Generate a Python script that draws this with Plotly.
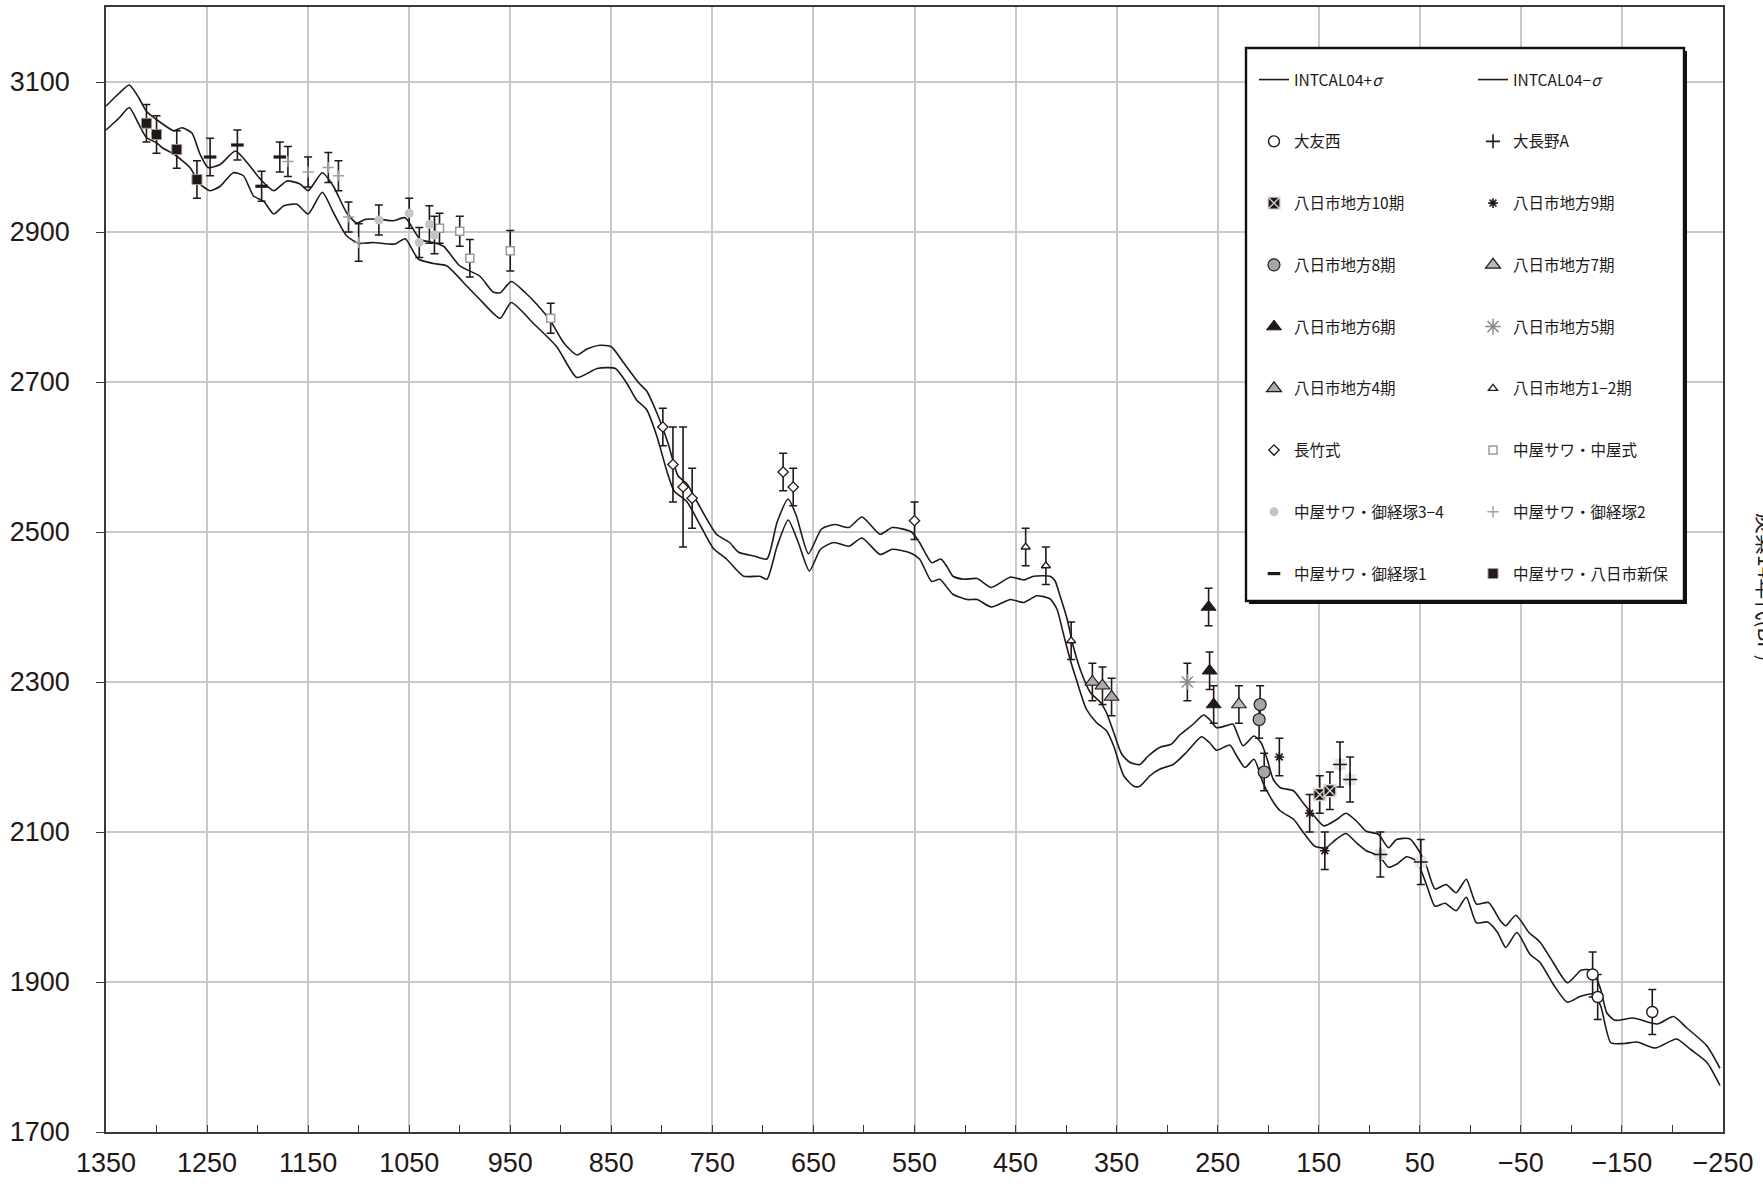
import plotly.graph_objects as go

# ---------------- data ----------------
# INTCAL04 calibration curve (+sigma / -sigma): calendar year (BC>0, AD<0) vs 14C age (BP)
upper_year = [1350, 1337, 1327, 1318, 1310, 1296, 1283, 1275, 1265, 1257, 1249, 1237, 1222, 1210, 1197,
              1184, 1171, 1158, 1150, 1136, 1125, 1112, 1102, 1093, 1079, 1066, 1054, 1039, 1026, 1016,
              1000, 980, 967, 960, 949, 935, 924, 910, 897, 884, 874, 861, 850, 838, 823, 815, 805, 794,
              784, 775, 765, 746, 733, 724, 709, 696, 686, 675, 667, 655, 642, 629, 615, 602, 584, 572,
              553, 545, 533, 524, 518, 512, 501, 488, 474, 455, 442, 432, 416, 411, 406, 399, 393, 385,
              376, 366, 360, 353, 345, 337, 327, 319, 307, 296, 287, 274, 264, 258, 251, 241, 235, 225,
              214, 207, 201, 195, 188, 175, 165, 155, 145, 133, 123, 113, 103, 91, 81, 73, 60, 50, 43,
              35, 24, 14, 4, -6, -18, -30, -35, -45, -58, -69, -82, -96, -110, -121, -129, -135, -143,
              -161, -185, -201, -214, -234, -247]
upper_bp = [3068, 3085, 3096, 3080, 3061, 3046, 3035, 3039, 3032, 3004, 2986, 2990, 3008, 2992, 2970,
            2955, 2968, 2964, 2955, 2979, 2961, 2926, 2912, 2917, 2917, 2915, 2919, 2890, 2886, 2881,
            2855, 2841, 2820, 2819, 2834, 2819, 2804, 2781, 2752, 2736, 2744, 2749, 2747, 2726, 2699, 2688,
            2659, 2619, 2575, 2564, 2540, 2497, 2486, 2473, 2468, 2464, 2513, 2544, 2522, 2471, 2504, 2510,
            2506, 2520, 2497, 2506, 2500, 2486, 2459, 2464, 2454, 2441, 2437, 2438, 2426, 2440, 2436, 2441,
            2441, 2435, 2415, 2384, 2348, 2313, 2286, 2273, 2259, 2233, 2204, 2193, 2190, 2201, 2213, 2217,
            2230, 2244, 2256, 2250, 2239, 2242, 2244, 2215, 2228, 2219, 2197, 2170, 2159, 2155, 2138, 2122,
            2108, 2116, 2125, 2115, 2101, 2097, 2079, 2090, 2091, 2073, 2053, 2024, 2030, 2019, 2037, 2004,
            2006, 1981, 1975, 1989, 1966, 1953, 1926, 1899, 1916, 1915, 1890, 1859, 1849, 1852, 1844, 1854,
            1839, 1815, 1785]

lower_year = [1350, 1337, 1327, 1318, 1310, 1300, 1294, 1283, 1267, 1257, 1247, 1237, 1224, 1214, 1204,
              1194, 1184, 1174, 1161, 1150, 1136, 1125, 1112, 1100, 1085, 1064, 1054, 1041, 1026, 1013,
              993, 980, 960, 949, 927, 904, 884, 864, 846, 835, 825, 815, 805, 795, 788, 775, 762, 749,
              736, 719, 703, 696, 686, 675, 665, 654, 643, 630, 615, 602, 584, 572, 554, 545, 533, 525,
              512, 498, 488, 474, 455, 442, 429, 416, 409, 403, 396, 390, 380, 370, 360, 353, 343, 333,
              327, 317, 307, 294, 281, 266, 258, 251, 238, 231, 223, 214, 205, 195, 188, 175, 165, 154,
              143, 133, 123, 113, 103, 90, 81, 73, 63, 53, 43, 35, 25, 14, 4, -6, -17, -27, -35, -46,
              -59, -69, -82, -96, -109, -122, -129, -139, -152, -165, -183, -204, -218, -234, -247]
lower_bp = [3036, 3052, 3066, 3045, 3026, 3019, 3012, 3004, 2986, 2964, 2955, 2961, 2979, 2975, 2948,
            2941, 2924, 2935, 2937, 2924, 2953, 2926, 2895, 2885, 2886, 2884, 2891, 2864, 2858, 2855,
            2828, 2810, 2785, 2806, 2778, 2747, 2706, 2718, 2718, 2699, 2676, 2663, 2628, 2581, 2555, 2540,
            2509, 2478, 2464, 2441, 2441, 2437, 2481, 2516, 2486, 2448, 2477, 2486, 2481, 2492, 2470, 2477,
            2472, 2464, 2434, 2437, 2417, 2410, 2410, 2400, 2410, 2406, 2415, 2411, 2397, 2366, 2330, 2304,
            2264, 2246, 2235, 2215, 2175, 2161, 2161, 2175, 2184, 2190, 2206, 2227, 2219, 2209, 2216, 2201,
            2186, 2197, 2165, 2140, 2128, 2117, 2099, 2081, 2079, 2090, 2098, 2086, 2075, 2068, 2053, 2057,
            2067, 2061, 2028, 2001, 2005, 1995, 2013, 1979, 1980, 1966, 1946, 1966, 1937, 1926, 1897, 1873,
            1881, 1884, 1868, 1819, 1818, 1820, 1812, 1824, 1810, 1793, 1762]

# measured samples: calendar year, 14C age (BP), 1-sigma error
ootomonishi_year = [-121, -126, -180]
ootomonishi_bp = [1910, 1880, 1860]
ootomonishi_err = [30, 30, 30]

oonaganoA_year = [129, 119, 89, 49]
oonaganoA_bp = [2190, 2170, 2070, 2060]
oonaganoA_err = [30, 30, 30, 30]

yokaichi10_year = [149, 139]
yokaichi10_bp = [2150, 2155]
yokaichi10_err = [25, 25]

yokaichi9_year = [189, 159, 144]
yokaichi9_bp = [2200, 2125, 2075]
yokaichi9_err = [25, 25, 25]

yokaichi8_year = [208, 209, 204]
yokaichi8_bp = [2270, 2250, 2180]
yokaichi8_err = [25, 25, 25]

yokaichi7_year = [229]
yokaichi7_bp = [2270]
yokaichi7_err = [25]

yokaichi6_year = [259, 258, 254]
yokaichi6_bp = [2400, 2315, 2270]
yokaichi6_err = [25, 25, 25]

yokaichi5_year = [280]
yokaichi5_bp = [2300]
yokaichi5_err = [25]

yokaichi4_year = [374, 364, 355]
yokaichi4_bp = [2300, 2295, 2280]
yokaichi4_err = [25, 25, 25]

yokaichi12_year = [440, 420, 395]
yokaichi12_bp = [2480, 2455, 2355]
yokaichi12_err = [25, 25, 25]

nagatake_year = [799, 789, 779, 770, 680, 670, 550]
nagatake_bp = [2640, 2590, 2560, 2545, 2580, 2560, 2515]
nagatake_err = [25, 50, 80, 40, 25, 25, 25]

nakaya_year = [1020, 1000, 990, 950, 910]
nakaya_bp = [2905, 2901, 2865, 2875, 2785]
nakaya_err = [20, 20, 25, 27, 20]

okyozuka34_year = [1080, 1050, 1040, 1030, 1025]
okyozuka34_bp = [2916, 2925, 2886, 2910, 2896]
okyozuka34_err = [20, 20, 20, 25, 25]

okyozuka2_year = [1170, 1150, 1130, 1120, 1110, 1100]
okyozuka2_bp = [2994, 2980, 2986, 2975, 2920, 2886]
okyozuka2_err = [20, 20, 20, 20, 20, 25]

okyozuka1_year = [1247, 1220, 1196, 1178]
okyozuka1_bp = [3000, 3016, 2961, 3000]
okyozuka1_err = [25, 20, 20, 20]

shinbo_year = [1310, 1300, 1280, 1260]
shinbo_bp = [3045, 3030, 3010, 2970]
shinbo_err = [25, 25, 25, 25]

x_ticks = [1350, 1250, 1150, 1050, 950, 850, 750, 650, 550, 450, 350, 250, 150, 50, -50, -150, -250]
y_ticks = [1700, 1900, 2100, 2300, 2500, 2700, 2900, 3100]

# ---------------- styling ----------------
INK = "#231815"
W, H = 1763, 1184
ML, MR, MT, MB = 106, 40, 7, 52
PW, PH = W - ML - MR, H - MT - MB


def px_x(p):
    return (p - ML) / PW


def px_y(p):
    return (H - MB - p) / PH


fig = go.Figure()

fig.add_trace(go.Scatter(x=upper_year, y=upper_bp, mode="lines", name="INTCAL04+<i>σ</i>",
                         line=dict(color=INK, width=1.6, shape="spline", smoothing=0.6),
                         legend="legend", legendgroup="u"))
fig.add_trace(go.Scatter(x=lower_year, y=lower_bp, mode="lines", name="INTCAL04−<i>σ</i>",
                         line=dict(color=INK, width=1.6, shape="spline", smoothing=0.6),
                         legend="legend2", legendgroup="l"))


def pts(name, xs, ys, errs, symbol, size, color, lcolor, lwidth, legend, group):
    fig.add_trace(go.Scatter(
        x=xs, y=ys, mode="markers", name=name, legend=legend, legendgroup=group,
        marker=dict(symbol=symbol, size=size, color=color, line=dict(color=lcolor, width=lwidth)),
        error_y=dict(type="data", array=errs, visible=True, color=INK, thickness=1.6, width=4),
        cliponaxis=False))


# background squares behind 大長野A crosses (no legend)
fig.add_trace(go.Scatter(x=oonaganoA_year, y=oonaganoA_bp, mode="markers", showlegend=False,
                         marker=dict(symbol="square", size=11, color="#e4e4e4"), hoverinfo="skip"))

pts("大友西", ootomonishi_year, ootomonishi_bp, ootomonishi_err, "circle", 11, "white", INK, 1.4, "legend", "a1")
pts("大長野A", oonaganoA_year, oonaganoA_bp, oonaganoA_err, "cross-thin-open", 10, INK, INK, 1.6, "legend2", "b1")
pts("八日市地方10期", yokaichi10_year, yokaichi10_bp, yokaichi10_err, "square-x", 12, INK, "#d9d9d9", 1.3, "legend", "a2")
pts("八日市地方9期", yokaichi9_year, yokaichi9_bp, yokaichi9_err, "asterisk-open", 8, INK, INK, 1.6, "legend2", "b2")
pts("八日市地方8期", yokaichi8_year, yokaichi8_bp, yokaichi8_err, "circle", 12, "#a6a6a6", INK, 1.2, "legend", "a3")
pts("八日市地方7期", yokaichi7_year, yokaichi7_bp, yokaichi7_err, "triangle-up", 13, "#b8b8b8", INK, 1.2, "legend2", "b3")
pts("八日市地方6期", yokaichi6_year, yokaichi6_bp, yokaichi6_err, "triangle-up", 13, INK, INK, 1, "legend", "a4")
pts("八日市地方5期", yokaichi5_year, yokaichi5_bp, yokaichi5_err, "asterisk-open", 13, "#8c8c8c", "#8c8c8c", 1.5, "legend2", "b4")
pts("八日市地方4期", yokaichi4_year, yokaichi4_bp, yokaichi4_err, "triangle-up", 13, "#a9a9a9", INK, 1.2, "legend", "a5")
pts("八日市地方1−2期", yokaichi12_year, yokaichi12_bp, yokaichi12_err, "triangle-up", 8, "white", INK, 1.3, "legend2", "b5")
pts("長竹式", nagatake_year, nagatake_bp, nagatake_err, "diamond", 8, "white", INK, 1.3, "legend", "a6")
pts("中屋サワ・中屋式", nakaya_year, nakaya_bp, nakaya_err, "square", 8, "white", "#9a9a9a", 1.5, "legend2", "b6")
pts("中屋サワ・御経塚3−4", okyozuka34_year, okyozuka34_bp, okyozuka34_err, "circle", 9, "#c4c4c4", "#c4c4c4", 0, "legend", "a7")
pts("中屋サワ・御経塚2", okyozuka2_year, okyozuka2_bp, okyozuka2_err, "cross-thin-open", 8, "#a0a0a0", "#a0a0a0", 1.5, "legend2", "b7")
pts("中屋サワ・御経塚1", okyozuka1_year, okyozuka1_bp, okyozuka1_err, "line-ew-open", 9, INK, "#3a3a3a", 3.2, "legend", "a8")
pts("中屋サワ・八日市新保", shinbo_year, shinbo_bp, shinbo_err, "square", 10, INK, "#9a9a9a", 1, "legend2", "b8")

# legend frame (with drop shadow)
bx0, by0, bx1, by1 = 1246, 48, 1684, 601
fig.add_shape(type="rect", xref="paper", yref="paper", layer="above",
              x0=px_x(bx0 + 3), x1=px_x(bx1 + 3), y0=px_y(by1 + 3), y1=px_y(by0 + 3),
              fillcolor="#111111", line=dict(width=0))
fig.add_shape(type="rect", xref="paper", yref="paper", layer="above",
              x0=px_x(bx0), x1=px_x(bx1), y0=px_y(by1), y1=px_y(by0),
              fillcolor="white", line=dict(color="#111111", width=2.4))

legend_font = dict(family="Noto Sans CJK JP, sans-serif", size=15.5, color=INK)
common_leg = dict(bgcolor="rgba(0,0,0,0)", borderwidth=0, font=legend_font, orientation="v",
                  traceorder="grouped", tracegroupgap=38.6, itemsizing="trace",
                  xanchor="left", yanchor="top", itemclick=False, itemdoubleclick=False)

tick_font = dict(family="Liberation Sans, Arial, sans-serif", size=27, color=INK)

fig.update_layout(
    width=W, height=H,
    margin=dict(l=ML, r=MR, t=MT, b=MB, autoexpand=False),
    paper_bgcolor="white", plot_bgcolor="white",
    showlegend=True,
    legend=dict(x=px_x(1254), y=px_y(63), **common_leg),
    legend2=dict(x=px_x(1473), y=px_y(63), **common_leg),
    xaxis=dict(range=[1350, -250], tickmode="array", tickvals=x_ticks,
               ticktext=[str(v).replace("-", "−") for v in x_ticks],
               showgrid=True, gridcolor="#c9c9c9", gridwidth=1.5,
               ticks="inside", ticklen=7, tickwidth=1.4, tickcolor="#3a3a3a",
               minor=dict(tickmode="array", tickvals=[1300 - 100 * i for i in range(16)],
                          ticks="inside", ticklen=7, tickwidth=1.2, tickcolor="#3a3a3a", showgrid=False),
               showline=True, linecolor="#3a3a3a", linewidth=1.6, mirror=True,
               zeroline=False, tickfont=tick_font, ticklabelstandoff=6),
    yaxis=dict(range=[1700, 3200], tickmode="array", tickvals=y_ticks,
               showgrid=True, gridcolor="#c9c9c9", gridwidth=1.5,
               ticks="outside", ticklen=8, tickwidth=1.4, tickcolor="#3a3a3a",
               showline=True, linecolor="#3a3a3a", linewidth=1.6, mirror=True,
               zeroline=False, tickfont=tick_font, ticklabelstandoff=21),
    annotations=[dict(text="炭素14年代(BP)", xref="paper", yref="paper",
                      x=px_x(1767), y=px_y(587), showarrow=False, textangle=90,
                      font=dict(family="Noto Sans CJK JP, sans-serif", size=21, color=INK),
                      xanchor="center", yanchor="middle")],
)

fig.write_html("out.html", config={"displayModeBar": False},
               post_script="document.body.style.margin='0';document.body.style.overflow='hidden';")
